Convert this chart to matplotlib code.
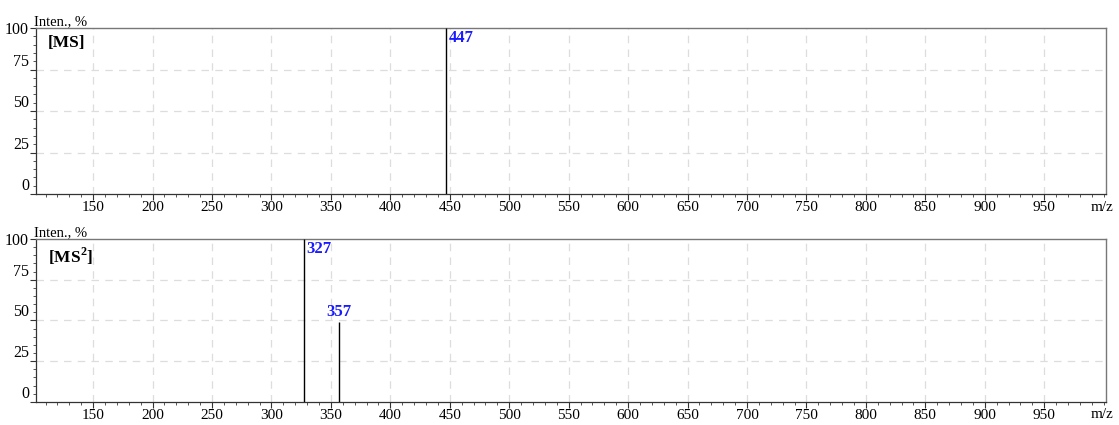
import matplotlib.pyplot as plt
import numpy as np

# spectrum data
ms1_mz = [447]
ms1_int = [100]
ms1_labels = ['447']

ms2_mz = [327, 357]
ms2_int = [100, 49]
ms2_labels = ['327', '357']

x_major = list(range(150, 1000, 50))
y_major = [0, 25, 50, 75, 100]

plt.rcParams['font.family'] = ['Liberation Serif', 'DejaVu Serif']

fig = plt.figure(figsize=(11.19, 4.25), dpi=100)
ax1 = fig.add_axes([0.0322, 0.5435, 0.9562, 0.3906])
ax2 = fig.add_axes([0.0322, 0.0545, 0.9562, 0.3832])


def draw_panel(ax, mz, inten, labels, title, label_pos):
    ax.set_xlim(102, 1002)
    ax.set_ylim(0, 100)
    for x in x_major:
        ax.axvline(x, color='#dddddd', lw=0.9, ls=(0, (6, 5)), zorder=0)
    for y in y_major[1:-1]:
        ax.axhline(y, color='#dddddd', lw=0.9, ls=(0, (6, 5)), zorder=0)
    ax.vlines(mz, 0, inten, color='black', lw=1.0, zorder=3)
    for m, h, lab, pos in zip(mz, inten, labels, label_pos):
        if pos == 'right':
            ax.text(m + 2, h - 1.5, lab, color='#1a1aff', fontweight='bold',
                    fontsize=12, ha='left', va='top')
        else:
            ax.text(m, h + 1.5, lab, color='#1a1aff', fontweight='bold',
                    fontsize=12, ha='center', va='bottom')
    ax.text(0.011, 0.96, title, transform=ax.transAxes, fontweight='bold',
            fontsize=12.5, ha='left', va='top')
    ax.text(-0.002, 1.0, 'Inten., %', transform=ax.transAxes, fontsize=10.5,
            ha='left', va='bottom')
    ax.text(0.996, -0.04, 'm/z', transform=ax.transAxes, fontsize=11,
            ha='center', va='top')

    ax.set_xticks(x_major)
    ax.set_xticks(np.arange(110, 1001, 10), minor=True)
    ax.set_yticks(y_major)
    ax.set_yticks(np.arange(0, 101, 5), minor=True)
    ax.tick_params(axis='both', which='major', labelsize=11, length=4,
                   width=0.8, color='#333333', pad=1)
    ax.tick_params(axis='y', which='major', labelsize=11.5, pad=1)
    ax.tick_params(axis='both', which='minor', length=2.5, width=0.7,
                   color='#555555')
    for lab in ax.get_yticklabels():
        if lab.get_text() != '100':
            lab.set_va('bottom')
    for s in ['top', 'right']:
        ax.spines[s].set_color('#777777')
        ax.spines[s].set_linewidth(1.0)
    for s in ['left', 'bottom']:
        ax.spines[s].set_color('#333333')
        ax.spines[s].set_linewidth(0.9)


draw_panel(ax1, ms1_mz, ms1_int, ms1_labels, '[MS]', ['right'])
draw_panel(ax2, ms2_mz, ms2_int, ms2_labels, '[MS$^\\mathregular{2}$]', ['right', 'center'])

fig.savefig('out.png', dpi=100)
